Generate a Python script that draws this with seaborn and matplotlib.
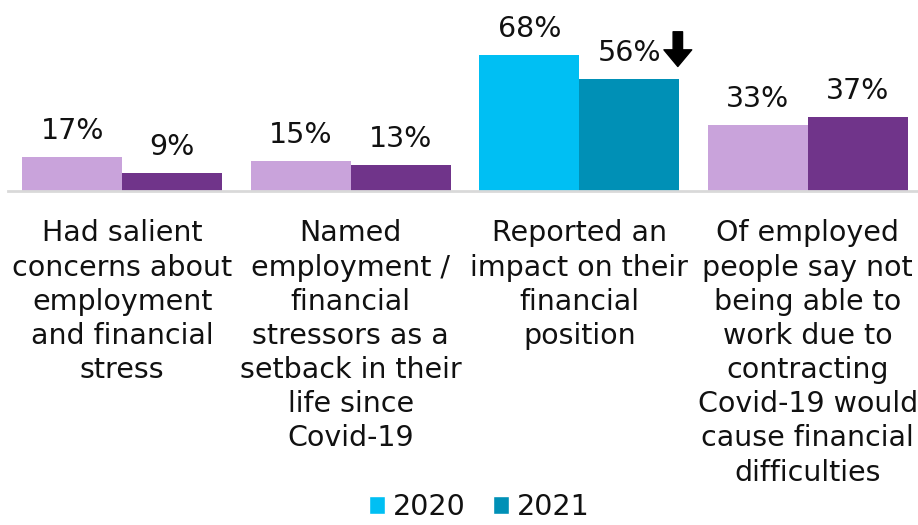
import matplotlib
matplotlib.use("Agg")
import matplotlib.pyplot as plt
import matplotlib.transforms as mtransforms
import seaborn as sns
import pandas as pd

categories = [
    "Had salient\nconcerns about\nemployment\nand financial\nstress",
    "Named\nemployment /\nfinancial\nstressors as a\nsetback in their\nlife since\nCovid-19",
    "Reported an\nimpact on their\nfinancial\nposition",
    "Of employed\npeople say not\nbeing able to\nwork due to\ncontracting\nCovid-19 would\ncause financial\ndifficulties",
]
years = ["2020", "2021"]
values_2020 = [17, 15, 68, 33]
values_2021 = [9, 13, 56, 37]
labels_2020 = ["17%", "15%", "68%", "33%"]
labels_2021 = ["9%", "13%", "56%", "37%"]
highlight = [False, False, True, False]   # blue group; the rest are purple

blue = {"2020": "#00BFF3", "2021": "#0090B6"}
purple = {"2020": "#C9A3DB", "2021": "#70348A"}

df = pd.DataFrame({
    "category": categories * 2,
    "year": [years[0]] * 4 + [years[1]] * 4,
    "value": values_2020 + values_2021,
})

sns.set_theme(style="white")
plt.rcParams["font.family"] = ["DejaVu Sans"]

FS = 20.5
TXT = "#111111"

fig = plt.figure(figsize=(9.18, 5.25), dpi=100)
ax = fig.add_axes([8 / 918, 334 / 525, 914 / 918, 190 / 525])

sns.barplot(data=df, x="category", y="value", hue="year", order=categories,
            hue_order=years, palette=blue, width=0.875, gap=0, saturation=1,
            ax=ax, legend=True)

# recolour the non-highlighted groups in purple
for container, yr, labs in zip(ax.containers, years, [labels_2020, labels_2021]):
    for bar, hl in zip(container.patches, highlight):
        bar.set_color(blue[yr] if hl else purple[yr])
        bar.set_edgecolor("none")
    ax.bar_label(container, labels=labs, padding=8.5, fontsize=FS, color=TXT)

# downward arrow beside the 2021 value of the highlighted group
dec_idx = highlight.index(True)
bar = ax.containers[1].patches[dec_idx]
tip_tf = mtransforms.offset_copy(ax.transData, fig=fig, x=-1, y=9, units="points")
ax.annotate("", xy=(bar.get_x() + bar.get_width(), bar.get_height()), xycoords=tip_tf,
            xytext=(0, 25), textcoords="offset points",
            arrowprops=dict(arrowstyle="simple,head_width=1.0,head_length=0.6,tail_width=0.34",
                            mutation_scale=20, color="black", shrinkA=0, shrinkB=0),
            annotation_clip=False)

ax.set_ylim(0, 95)
ax.set_xlim(-0.5, 3.5)
ax.set_xlabel("")
ax.set_ylabel("")
ax.set_yticks([])
ax.tick_params(axis="x", length=0, pad=20.5, labelsize=FS, colors=TXT)
for lab in ax.get_xticklabels():
    lab.set_linespacing(1.28)
    lab.set_verticalalignment("top")

for s in ["top", "left", "right"]:
    ax.spines[s].set_visible(False)
ax.spines["bottom"].set_color("#D9D9D9")
ax.spines["bottom"].set_linewidth(2)

leg = ax.legend(loc="center", ncol=2, frameon=False, fontsize=FS,
                handlelength=0.55, handleheight=0.55, handletextpad=0.3,
                columnspacing=0.95)
leg.set_bbox_to_anchor((479.5 / 918, 18 / 525), transform=fig.transFigure)
for t in leg.get_texts():
    t.set_color(TXT)

fig.savefig("out.png", dpi=100)
